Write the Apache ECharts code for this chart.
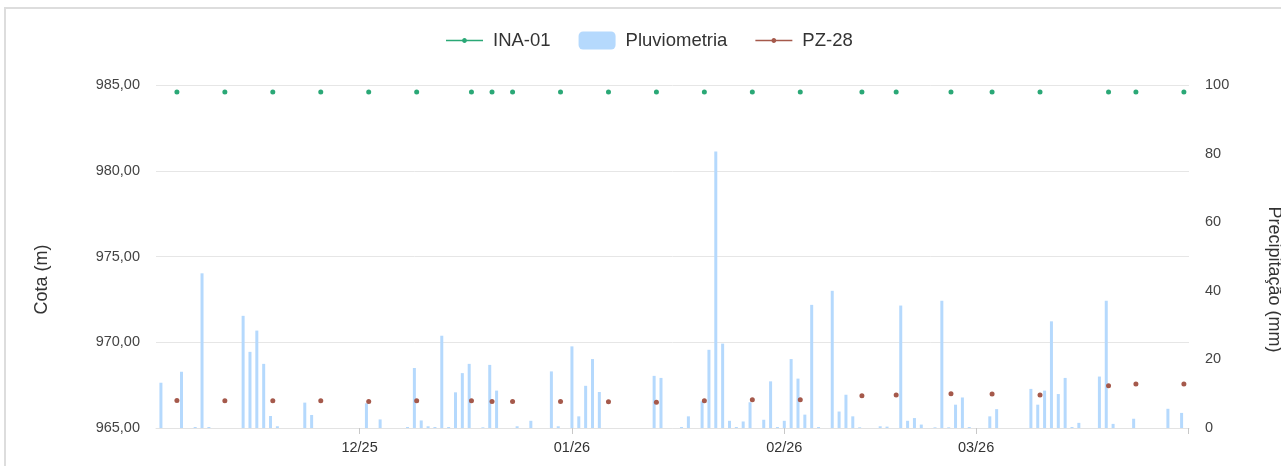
<!DOCTYPE html>
<html>
<head>
<meta charset="utf-8">
<script src="https://cdn.jsdelivr.net/npm/echarts@6/dist/echarts.min.js"></script>
<style>
html,body{margin:0;padding:0;background:#fff;}
#c{width:1281px;height:466px;}
</style>
</head>
<body>
<div id="c"></div>
<script>
// ---- Data ----
const readingDates = [
  '2025-11-04 08:00','2025-11-11 08:00','2025-11-18 08:00','2025-11-25 08:00','2025-12-02 08:00',
  '2025-12-09 08:00','2025-12-17 08:00','2025-12-20 08:00','2025-12-23 08:00','2025-12-30 08:00',
  '2026-01-06 08:00','2026-01-13 08:00','2026-01-20 08:00','2026-01-27 08:00','2026-02-03 08:00',
  '2026-02-12 08:00','2026-02-17 08:00','2026-02-25 08:00','2026-03-03 08:00','2026-03-10 08:00',
  '2026-03-20 08:00','2026-03-24 08:00','2026-03-31 08:00'
];
const inaValues = [
  984.59,984.59,984.59,984.59,984.59,
  984.59,984.59,984.59,984.59,984.59,
  984.59,984.59,984.59,984.59,984.59,
  984.59,984.59,984.59,984.59,984.59,
  984.59,984.59,984.59
];
const pz28Values = [
  966.61,966.59,966.59,966.59,966.55,
  966.59,966.59,966.55,966.55,966.55,
  966.53,966.50,966.59,966.65,966.65,
  966.88,966.92,967.00,966.98,966.92,
  967.46,967.56,967.56
];
const rainDates = [
  '2025-11-02','2025-11-05','2025-11-07','2025-11-08','2025-11-09','2025-11-14','2025-11-15','2025-11-16',
  '2025-11-17','2025-11-18','2025-11-19','2025-11-23','2025-11-24','2025-12-02','2025-12-04','2025-12-08',
  '2025-12-09','2025-12-10','2025-12-11','2025-12-12','2025-12-13','2025-12-14','2025-12-15','2025-12-16',
  '2025-12-17','2025-12-19','2025-12-20','2025-12-21','2025-12-24','2025-12-26','2025-12-29','2025-12-30',
  '2026-01-01','2026-01-02','2026-01-03','2026-01-04','2026-01-05','2026-01-13','2026-01-14','2026-01-17',
  '2026-01-18','2026-01-20','2026-01-21','2026-01-22','2026-01-23','2026-01-24','2026-01-25','2026-01-26',
  '2026-01-27','2026-01-29','2026-01-30','2026-01-31','2026-02-01','2026-02-02','2026-02-03','2026-02-04',
  '2026-02-05','2026-02-06','2026-02-08','2026-02-09','2026-02-10','2026-02-11','2026-02-12','2026-02-15',
  '2026-02-16','2026-02-18','2026-02-19','2026-02-20','2026-02-21','2026-02-23','2026-02-24','2026-02-25',
  '2026-02-26','2026-02-27','2026-02-28','2026-03-03','2026-03-04','2026-03-09','2026-03-10','2026-03-11',
  '2026-03-12','2026-03-13','2026-03-14','2026-03-15','2026-03-16','2026-03-19','2026-03-20','2026-03-21',
  '2026-03-24','2026-03-29','2026-03-31'
];
const rainValues = [
  13.2,16.4,0.3,45.1,0.3,32.7,22.2,28.4,
  18.7,3.5,0.5,7.4,3.8,7.2,2.5,0.3,
  17.5,2.2,0.5,0.3,26.9,0.3,10.4,16.0,
  18.7,0.2,18.4,10.9,0.5,2.1,16.5,0.5,
  23.8,3.4,12.3,20.1,10.5,15.2,14.6,0.3,
  3.4,7.8,22.8,80.6,24.6,2.1,0.3,1.9,
  7.5,2.4,13.6,0.3,2.1,20.1,14.4,3.9,
  35.9,0.3,40.0,4.8,9.7,3.4,0.2,0.5,
  0.4,35.7,2.1,2.9,1.0,0.2,37.1,0.2,
  6.8,8.9,0.3,3.4,5.5,11.4,6.8,10.9,
  31.1,9.9,14.6,0.3,1.5,15.0,37.1,1.2,
  2.7,5.6,4.4
];
const seriesNames = ['INA-01', 'Pluviometria', 'PZ-28'];
// month tick labels shown on the x axis (MM/YY), keyed by "year-monthIndex"
const xTickLabels = {'2025-11': '12/25', '2026-0': '01/26', '2026-1': '02/26', '2026-2': '03/26'};

// ---- Chart ----
const FONT = '"Liberation Sans", Arial, sans-serif';
const chart = echarts.init(document.getElementById('c'), null, {renderer: 'canvas'});
// legend icon for the point series: thin line with a small dot in the middle
const LINE_DOT_ICON = 'path://M0,8.3L37,8.3L37,9.7L0,9.7Z' +
  'M20.9,9C20.9,10.3255 19.8255,11.4 18.5,11.4C17.1745,11.4 16.1,10.3255 16.1,9' +
  'C16.1,7.6745 17.1745,6.6 18.5,6.6C19.8255,6.6 20.9,7.6745 20.9,9Z';

chart.setOption({
  animation: false,
  backgroundColor: '#ffffff',
  textStyle: {fontFamily: FONT},
  graphic: [{
    type: 'rect', z: -10, silent: true,
    shape: {x: 5, y: 8, width: 1400, height: 600},
    style: {fill: 'none', stroke: '#dddddd', lineWidth: 2}
  }],
  legend: {
    top: 26, left: 441,
    itemWidth: 37, itemHeight: 18, itemGap: 28,
    data: [
      {name: seriesNames[0], icon: LINE_DOT_ICON},
      {name: seriesNames[1]},
      {name: seriesNames[2], icon: LINE_DOT_ICON}
    ],
    textStyle: {fontSize: 18.5, color: '#333', fontFamily: FONT, padding: [0, 0, 0, 5]}
  },
  grid: {left: 156, right: 92, top: 85, bottom: 38, containLabel: false, outerBoundsMode: 'none'},
  xAxis: {
    type: 'time',
    min: new Date(2025, 10, 1, 12, 0).getTime(),
    max: new Date(2026, 2, 31, 20, 40).getTime(),
    minInterval: 28 * 86400000,
    maxInterval: 31 * 86400000,
    axisLine: {show: true, lineStyle: {color: '#e3e3e3'}},
    axisTick: {show: true, length: 6, lineStyle: {color: '#c8c8c8'}},
    splitLine: {show: false},
    axisLabel: {
      fontSize: 14.5, color: '#333', margin: 12, fontFamily: FONT,
      showMinLabel: false, showMaxLabel: false,
      formatter: function (v) {
        const d = new Date(v);
        if (d.getDate() !== 1 || d.getHours() !== 0) return '';
        return xTickLabels[d.getFullYear() + '-' + d.getMonth()] || '';
      }
    }
  },
  yAxis: [{
    type: 'value', min: 965, max: 985, interval: 5,
    name: 'Cota (m)', nameLocation: 'middle', nameGap: 105,
    nameTextStyle: {fontSize: 18, color: '#333', fontFamily: FONT, padding: [0, 46, 0, 0]},
    axisLine: {show: false}, axisTick: {show: false},
    axisLabel: {
      fontSize: 14.5, color: '#444', margin: 16, fontFamily: FONT,
      formatter: v => v.toFixed(2).replace('.', ',')
    },
    splitLine: {show: true, lineStyle: {color: '#e6e6e6', width: 1}}
  }, {
    type: 'value', min: 0, max: 100, interval: 20, position: 'right',
    name: 'Precipitação (mm)', nameLocation: 'middle', nameRotate: -90, nameGap: 76,
    nameTextStyle: {fontSize: 18, color: '#333', fontFamily: FONT, padding: [0, 0, 0, 46]},
    axisLine: {show: false}, axisTick: {show: false},
    axisLabel: {fontSize: 14.5, color: '#444', margin: 16, fontFamily: FONT},
    splitLine: {show: false}
  }],
  series: [{
    name: 'INA-01', type: 'line', yAxisIndex: 0, z: 3,
    data: readingDates.map((d, i) => [d, inaValues[i]]),
    symbol: 'circle', symbolSize: 5, showSymbol: true,
    color: '#2aa876',
    itemStyle: {color: '#2aa876'},
    lineStyle: {color: '#2aa876', width: 0, opacity: 0}
  }, {
    name: 'Pluviometria', type: 'bar', yAxisIndex: 1, z: 1,
    data: rainDates.map((d, i) => [d, rainValues[i]]),
    barWidth: 3,
    color: '#b5d9fd',
    itemStyle: {color: '#b5d9fd'}
  }, {
    name: 'PZ-28', type: 'line', yAxisIndex: 0, z: 3,
    data: readingDates.map((d, i) => [d, pz28Values[i]]),
    symbol: 'circle', symbolSize: 5, showSymbol: true,
    color: '#a5594b',
    itemStyle: {color: '#a5594b'},
    lineStyle: {color: '#a5594b', width: 0, opacity: 0}
  }]
});
</script>
</body>
</html>
